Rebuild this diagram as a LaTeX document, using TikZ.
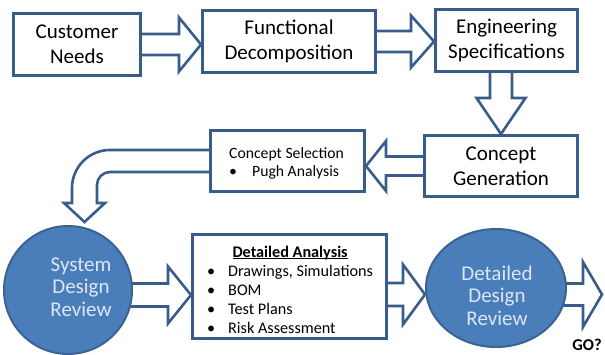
\documentclass[tikz,border=0pt]{standalone}
\usepackage{fontspec}
\setmainfont{Carlito}
\usetikzlibrary{shapes.geometric,calc,backgrounds}
\definecolor{bord}{HTML}{385D8A}
\definecolor{circbord}{HTML}{3A6391}
\definecolor{circfill}{HTML}{4A7EBB}
\definecolor{circtext}{HTML}{DCE6F2}
\tikzset{
  boxnode/.style={draw=bord, line width=3pt, fill=white, inner sep=0pt, align=center,
    font=\fontsize{21}{25}\selectfont},
  barrow/.style={draw=bord, line width=2.6pt, fill=white, line join=miter},
  circnode/.style={draw=circbord, line width=2pt, fill=circfill, inner sep=0pt},
  circtxt/.style={text=circtext, inner sep=0pt, font=\fontsize{21}{22.5}\selectfont},
  plaintxt/.style={inner sep=0pt},
}
% #1 start, #2 tip, #3 shaft half width, #4 head half width, #5 head length (signed)
\newcommand\hblockarrow[5]{%
  \draw[barrow] let \p1=(#1), \p2=(#2) in
    (\x1,{\y1+#3pt}) -- ({\x2-#5pt},{\y1+#3pt}) -- ({\x2-#5pt},{\y1+#4pt}) -- (\x2,\y1)
    -- ({\x2-#5pt},{\y1-#4pt}) -- ({\x2-#5pt},{\y1-#3pt}) -- (\x1,{\y1-#3pt}) -- cycle;}
\newcommand\vblockarrow[5]{%
  \draw[barrow] let \p1=(#1), \p2=(#2) in
    ({\x1+#3pt},\y1) -- ({\x1+#3pt},{\y2+#5pt}) -- ({\x1+#4pt},{\y2+#5pt}) -- (\x1,\y2)
    -- ({\x1-#4pt},{\y2+#5pt}) -- ({\x1-#3pt},{\y2+#5pt}) -- ({\x1-#3pt},\y1) -- cycle;}
\begin{document}
\begin{tikzpicture}[x=1pt,y=-1pt]
\useasboundingbox (0,0) rectangle (605,354);
% boxes
\node[boxnode, minimum width=127pt, minimum height=62pt] (cn) at (77,44.5) {Customer\\Needs};
\node[boxnode, minimum width=173pt, minimum height=62pt] (fd) at (289,41.5) {Functional\\Decomposition};
\node[boxnode, minimum width=142pt, minimum height=62pt] (es) at (506.5,40.5) {Engineering\\Specifications};
\node[boxnode, minimum width=153pt, minimum height=61pt] (cg) at (501,166) {Concept\\Generation};
\node[boxnode, minimum width=154pt, minimum height=61pt] (csel) at (287.5,161) {};
\node[boxnode, minimum width=194pt, minimum height=104pt] (da) at (289.5,286.5) {};
\node[circle, circnode, minimum size=128pt] (sdr) at (68,290) {};
\node[ellipse, circnode, minimum width=140pt, minimum height=118pt] (ddr) at (496,288) {};
% texts
\node[plaintxt, anchor=base west, font=\fontsize{15.7}{18}\selectfont] (cseltxt) at (229,158)
  {\begin{tabular}[t]{@{}l@{}}Concept Selection\\\makebox[23pt][l]{\textbullet}Pugh Analysis\end{tabular}};
\node[plaintxt, anchor=base west, font=\fontsize{16.2}{19}\selectfont] (datxt) at (207,257)
  {\begin{tabular}[t]{@{}l@{}}\multicolumn{1}{@{}c@{}}{\underline{\smash{\textbf{Detailed Analysis}}}}\\
   \makebox[21pt][l]{\textbullet}Drawings, Simulations\\
   \makebox[21pt][l]{\textbullet}BOM\\
   \makebox[21pt][l]{\textbullet}Test Plans\\
   \makebox[21pt][l]{\textbullet}Risk Assessment\end{tabular}};
\node[circtxt, anchor=base] (sdrtxt) at (81,271)
  {\begin{tabular}[t]{@{}c@{}}System\\Design\\Review\end{tabular}};
\node[circtxt, anchor=base] (ddrtxt) at (497,280)
  {\begin{tabular}[t]{@{}c@{}}Detailed\\Design\\Review\end{tabular}};
\node[plaintxt, anchor=base, font=\fontsize{16.5}{18}\selectfont\bfseries] (go) at (587,350.5) {GO?};
% connector coordinates
\coordinate (a6s) at ($(sdr.center)+(0,5)$);
\coordinate (a7s) at ($(da.center)+(0,8)$);
\coordinate (a8s) at ($(ddr.center)+(0,6.5)$);
\coordinate (a8e) at (602,294.5);
\begin{pgfonlayer}{background}
\hblockarrow{cn.center}{fd.west}{10.5}{27}{22}
\hblockarrow{fd.center}{es.west}{10.5}{26}{23}
\vblockarrow{es.center -| cg.center}{cg.north}{11}{24.5}{36}
\hblockarrow{cg.center}{csel.east}{9.5}{25}{-20}
\hblockarrow{a6s}{da.west}{11.5}{28.5}{23}
\hblockarrow{a7s}{ddr.west}{11.5}{30}{22}
\hblockarrow{a8s}{a8e}{11}{32.5}{19}
\draw[barrow] ($(csel.center)+(0,-11)$) -- (110,150)
  arc[start angle=270, end angle=180, radius=38] -- (72,203) -- (64,203) -- (84.5,222)
  -- (105,203) -- (97,203) -- (97,185) arc[start angle=180, end angle=270, radius=13]
  -- ($(csel.center)+(0,11)$) -- cycle;
\end{pgfonlayer}
\end{tikzpicture}
\end{document}
